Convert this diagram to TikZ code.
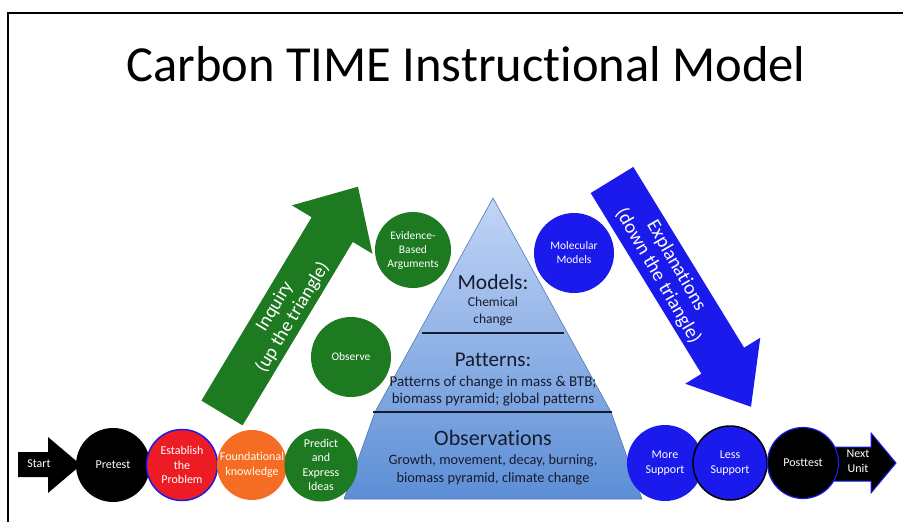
\documentclass[tikz,border=0pt]{standalone}
\usepackage{fontspec}
\setmainfont{Carlito}[Ligatures={NoCommon,NoRare,NoContextual}]
\begin{document}
\begin{tikzpicture}[x=1pt,y=-1pt]
\definecolor{ctgreen}{RGB}{30,122,32}
\definecolor{ctblue}{RGB}{26,26,236}
\definecolor{ctred}{RGB}{237,28,36}
\definecolor{ctorange}{RGB}{245,108,36}
\definecolor{ctink}{RGB}{22,28,44}
\definecolor{pyrtop}{RGB}{194,213,246}
\definecolor{pyrbot}{RGB}{92,142,214}
\definecolor{pyredge}{RGB}{80,120,180}
\tikzset{
  stage/.style={circle, inner sep=0pt, align=center, text=white,
    font=\fontsize{12}{14.5}\selectfont, minimum size=#1},
  stage/.default=74pt,
  pyrtext/.style={text=ctink, align=center, inner sep=0pt},
  arrowtext/.style={text=white, align=center, inner sep=0pt},
}
\useasboundingbox (0,0) rectangle (903,522);
\fill[white] (0,0) rectangle (903,522);
% slide frame
\draw[line width=2pt] (903,13) -- (8,13) -- (8,522);

% title
\node (title) at (466,64) {\fontsize{50.5}{60}\selectfont Carbon TIME Instructional Model};

% pyramid
\shade[top color=pyrtop, bottom color=pyrbot, draw=pyredge, line width=0.6pt]
  (493,198) -- (611,412) -- (642,499) -- (344,499) -- (375,412) -- cycle;
\draw[line width=1.4pt, ctink] (422,333) -- (564,333);
\draw[line width=1.4pt, ctink] (373,412) -- (612,412);

\node[pyrtext, font=\fontsize{21.5}{24}\selectfont] (models) at (493,282) {Models:};
\node[pyrtext, font=\fontsize{13.5}{17}\selectfont] (modelsd) at (493,311) {Chemical\\change};
\node[pyrtext, font=\fontsize{21}{24}\selectfont] (patterns) at (493,360) {Patterns:};
\node[pyrtext, font=\fontsize{15}{17.5}\selectfont] (patternsd) at (493,391)
  {Patterns of change in mass \& BTB;\\biomass pyramid; global patterns};
\node[pyrtext, font=\fontsize{22}{24}\selectfont] (obs) at (493,438) {Observations};
\node[pyrtext, font=\fontsize{14.3}{18}\selectfont] (obsd) at (493,470)
  {Growth, movement, decay, burning,\\biomass pyramid, climate change};

% inquiry arrow (up the triangle)
\begin{scope}[shift={(222,413)}, rotate=59]
  \fill[ctgreen] (0,-24) -- (214,-24) -- (214,-47) -- (264,0)
    -- (214,47) -- (214,24) -- (0,24) -- cycle;
\end{scope}
\node[arrowtext, rotate=59, font=\fontsize{19}{21}\selectfont] (inquiry) at (284,312)
  {Inquiry\\(up the triangle)};

% explanation arrow (down the triangle)
\begin{scope}[shift={(612,180)}, rotate=-58.5]
  \fill[ctblue] (0,-25) -- (212,-25) -- (212,-44) -- (266,0)
    -- (212,44) -- (212,25) -- (0,25) -- cycle;
\end{scope}
\node[arrowtext, rotate=-60, font=\fontsize{19.5}{21}\selectfont] (explain) at (667,271)
  {Explanations\\(down the triangle)};

% upper stages
\node[stage=76pt, fill=ctgreen, font=\fontsize{11.5}{14}\selectfont] (evidence) at (413,250)
  {Evidence-\\Based\\Arguments};
\node[stage=80pt, fill=ctgreen, font=\fontsize{11.5}{14}\selectfont] (observe) at (351,357) {Observe};
\node[stage=80pt, fill=ctblue, font=\fontsize{11.5}{14}\selectfont] (molecular) at (574,253)
  {Molecular\\Models};

% start arrow
\fill (18,452) -- (48,452) -- (48,437) -- (81,465) -- (48,493) -- (48,477) -- (18,477) -- cycle;
\node[arrowtext, font=\fontsize{12}{14.5}\selectfont] (start) at (39,464) {Start};

% next unit arrow
\fill[draw=ctblue, line width=1pt] (830,447) -- (871,447) -- (871,433) -- (896,463)
  -- (871,493) -- (871,481) -- (830,481) -- cycle;

% lower stages
\node[stage=74pt, fill=black] (pretest) at (113,465) {Pretest};
\node[stage=71pt, fill=ctred, draw=ctblue, line width=1.5pt] (establish) at (182,465)
  {Establish\\the\\Problem};
\node[stage=70pt, fill=ctorange, text=white!92!yellow] (found) at (252,465)
  {Foundational\\knowledge};
\node[stage=73pt, fill=ctgreen] (predict) at (321,465) {Predict\\and\\Express\\Ideas};

\node[stage=76pt, fill=ctblue] (more) at (665,463) {More\\Support};
\node[stage=74pt, fill=ctblue, draw=black, line width=1.5pt] (less) at (730,463) {Less\\Support};
\node[stage=71pt, fill=black, draw=ctblue, line width=1.2pt] (posttest) at (803,463) {Posttest};
\node[arrowtext, font=\fontsize{12}{14.5}\selectfont] (nextunit) at (858,461) {Next\\Unit};
\end{tikzpicture}
\end{document}
